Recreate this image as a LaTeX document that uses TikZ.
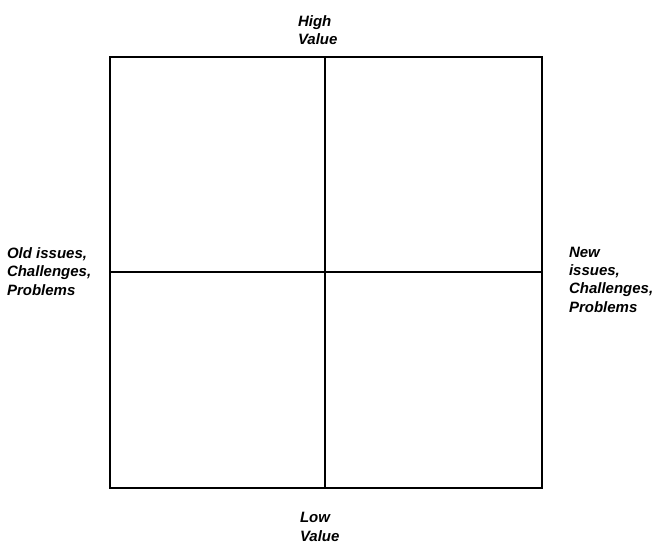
\documentclass[tikz,border=0pt]{standalone}
\usepackage{fontspec}
\setmainfont{Liberation Sans}
\tikzset{
  lbl/.style={inner sep=0pt, outer sep=0pt, align=left, anchor=base west,
    font=\fontsize{15}{18.3}\selectfont\bfseries\itshape},
  grid/.style={line width=1.8pt, black}
}
\begin{document}
\begin{tikzpicture}[x=1pt,y=-1pt]
\useasboundingbox (0,0) rectangle (658,543);
\coordinate (tl) at (110,57);
\coordinate (br) at (542,488);
\coordinate (tm) at (325,57);
\coordinate (bm) at (325,488);
\coordinate (lm) at (110,272);
\coordinate (rm) at (542,272);
\draw[grid] (tl) rectangle (br);
\draw[grid] (tm) -- (bm);
\draw[grid] (lm) -- (rm);
\node[lbl] (high) at (298,45) {High\\Value};
\node[lbl] (low) at (300,541) {Low\\Value};
\node[lbl] (old) at (7,295) {Old issues,\\Challenges,\\Problems};
\node[lbl] (new) at (569,312) {New\\issues,\\Challenges,\\Problems};
\end{tikzpicture}
\end{document}
